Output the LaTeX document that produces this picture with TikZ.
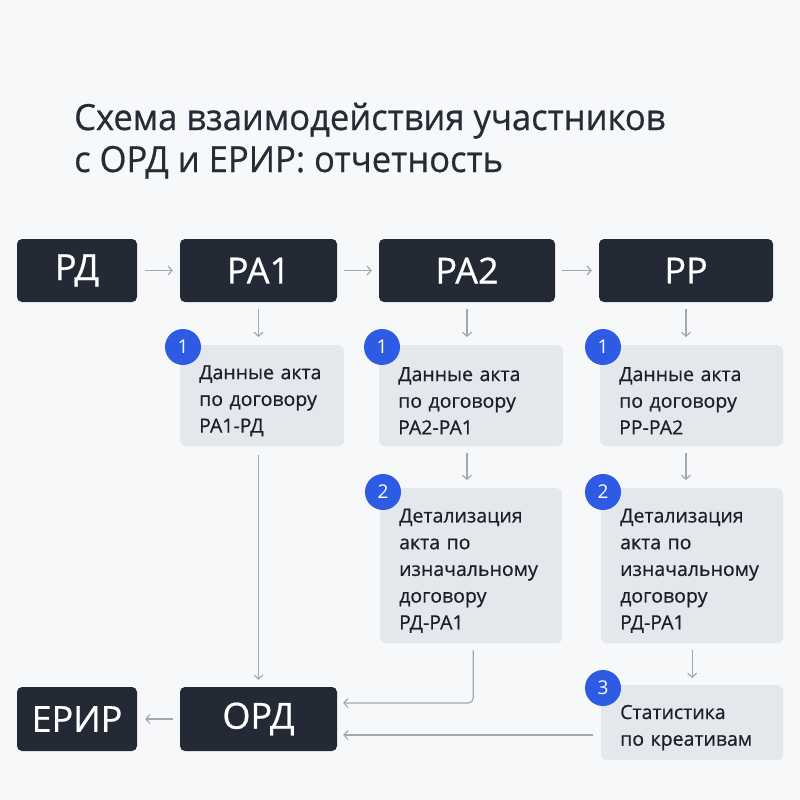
\documentclass[tikz,border=0pt]{standalone}
\usepackage{fontspec}
\usepackage{graphicx}
\setmainfont{Open Sans}
\newfontfamily\medfont{Open Sans}[FakeBold=0.6]
\usetikzlibrary{arrows.meta}
\definecolor{bg}{HTML}{F7F8FA}
\definecolor{dark}{HTML}{232A36}
\definecolor{greybox}{HTML}{E4E7EC}
\definecolor{badgeblue}{HTML}{2D5BE3}
\definecolor{arrowgrey}{HTML}{A3A7AE}
\definecolor{ink}{HTML}{1A1F2A}
\definecolor{titleink}{HTML}{262B35}
\begin{document}
\begin{tikzpicture}[x=1pt,y=-1pt,
  darkbox/.style={fill=dark, rounded corners=5pt, text=white, font=\medfont\fontsize{36}{40}\selectfont, inner sep=0pt, minimum height=63pt},
  infobox/.style={fill=greybox, rounded corners=6pt, text=ink, font=\medfont\fontsize{19.5}{26.7}\selectfont, align=left, inner xsep=19pt, inner ysep=0pt, anchor=north west, execute at begin node={\rule{0pt}{24pt}}},
  badge/.style={circle, fill=badgeblue, text=white, minimum size=36pt, inner sep=0pt, font=\fontsize{19}{20}\selectfont},
  conn/.style={draw=arrowgrey, line width=1.2pt, -{Straight Barb[length=4pt,width=9pt]}},
  titletext/.style={anchor=base west, inner sep=0pt, text=titleink, font=\medfont\fontsize{36}{42}\selectfont}
]
\useasboundingbox[fill=bg] (0,0) rectangle (800,800);

% title
\node[titletext] (t1) at (74,130) {\scalebox{0.96}[1]{Схема взаимодействия участников}};
\node[titletext] (t2) at (74,172) {\scalebox{0.96}[1]{с ОРД и ЕРИР: отчетность}};

% top row
\node[darkbox, minimum width=120pt] (rd)  at (77,270.5)  {РД};
\node[darkbox, minimum width=157pt] (ra1) at (258.5,270.5) {РА1};
\node[darkbox, minimum width=176pt] (ra2) at (467,270.5) {РА2};
\node[darkbox, minimum width=174pt] (rr)  at (686,270.5) {РР};

% bottom row
\node[darkbox, minimum width=120pt, minimum height=64pt] (erir) at (77,719) {ЕРИР};
\node[darkbox, minimum width=157pt, minimum height=64pt] (ord)  at (258.5,719) {ОРД};

% info boxes row 1
\node[infobox, text width=126pt, minimum height=101pt] (i1) at (180,345) {Данные акта\\по договору\\РА1-РД};
\node[infobox, text width=146pt, minimum height=101pt] (i2) at (379,345) {Данные акта\\по договору\\РА2-РА1};
\node[infobox, text width=145pt, minimum height=101pt] (i3) at (600,345) {Данные акта\\по договору\\РР-РА2};

% info boxes row 2
\node[infobox, text width=144pt, minimum height=155pt] (d2) at (380,488) {Детализация\\акта по\\изначальному\\договору\\РД-РА1};
\node[infobox, text width=144pt, minimum height=155pt] (d3) at (601,488) {Детализация\\акта по\\изначальному\\договору\\РД-РА1};

% statistics
\node[infobox, text width=144pt, minimum height=75pt] (st) at (601,685) {Статистика\\по креативам};

% badges
\node[badge] (b1) at (183,347) {1};
\node[badge] (b2) at (382,347) {1};
\node[badge] (b3) at (603,347) {1};
\node[badge] (b4) at (383,492) {2};
\node[badge] (b5) at (603,492) {2};
\node[badge] (b6) at (603,688) {3};

% connectors top row
\draw[conn, shorten <=8pt, shorten >=7pt] (rd) -- (ra1);
\draw[conn, shorten <=7pt, shorten >=7pt] (ra1) -- (ra2);
\draw[conn, shorten <=7pt, shorten >=7pt] (ra2) -- (rr);

% down to info boxes
\draw[conn, shorten <=7pt, shorten >=8pt] (ra1.south) -- (ra1.south |- i1.north);
\draw[conn, shorten <=7pt, shorten >=8pt] (ra2.south) -- (ra2.south |- i2.north);
\draw[conn, shorten <=7pt, shorten >=8pt] (rr.south) -- (rr.south |- i3.north);

% row 1 to row 2
\draw[conn, shorten <=7pt, shorten >=8pt] (ra2.south |- i2.south) -- (ra2.south |- d2.north);
\draw[conn, shorten <=7pt, shorten >=8pt] (rr.south |- i3.south) -- (rr.south |- d3.north);
\draw[conn, shorten <=7pt, shorten >=7pt] (d3.south) -- (d3.south |- st.north);

% to ORD
\draw[conn, shorten <=9pt, shorten >=7pt] (ord.north |- i1.south) -- (ord.north);
\draw[conn, rounded corners=5pt, shorten <=7pt, shorten >=6pt] ([xshift=2pt]d2.south) |- ([yshift=16pt]ord.east);
\draw[conn, shorten <=8pt, shorten >=6pt] ([yshift=-16pt]ord.east -| st.west) -- ([yshift=-16pt]ord.east);
\draw[conn, shorten <=7pt, shorten >=8pt] (ord) -- (erir);
\end{tikzpicture}
\end{document}
